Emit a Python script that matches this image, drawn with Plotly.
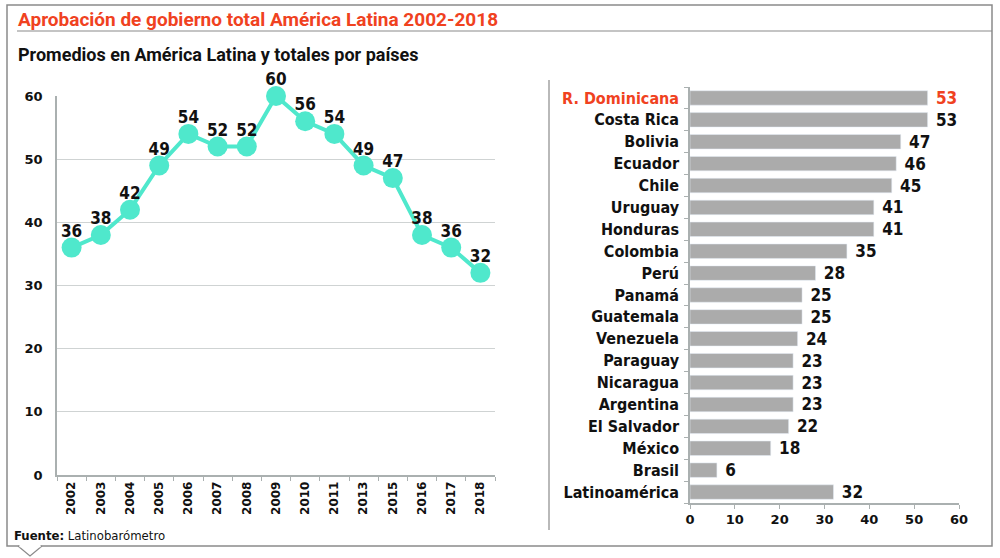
import plotly.graph_objects as go

years = ["2002", "2003", "2004", "2005", "2006", "2007", "2008", "2009",
         "2010", "2011", "2013", "2015", "2016", "2017", "2018"]
approval = [36, 38, 42, 49, 54, 52, 52, 60, 56, 54, 49, 47, 38, 36, 32]

countries = ["R. Dominicana", "Costa Rica", "Bolivia", "Ecuador", "Chile", "Uruguay",
             "Honduras", "Colombia", "Perú", "Panamá", "Guatemala", "Venezuela",
             "Paraguay", "Nicaragua", "Argentina", "El Salvador", "México", "Brasil",
             "Latinoamérica"]
country_vals = [53, 53, 47, 46, 45, 41, 41, 35, 28, 25, 25, 24, 23, 23, 23, 22, 18, 6, 32]

RED = "#F0421F"
TEAL = "#4FE8CC"
GRAY_BAR = "#ABABAB"
FRAME = "#8A8A8A"
W, H = 1000, 558
COND = "DejaVu Sans Condensed, DejaVu Sans, sans-serif"
NARROW = "Roboto, DejaVu Sans Condensed, sans-serif"
WIDE = "DejaVu Sans, sans-serif"

def px(x):
    return x / W

def py(y):
    return 1 - y / H

fig = go.Figure()

fig.add_trace(go.Scatter(
    x=years, y=approval, mode="lines+markers",
    line=dict(color=TEAL, width=4),
    marker=dict(color=TEAL, size=20),
    cliponaxis=False, xaxis="x", yaxis="y", showlegend=False, hoverinfo="skip",
))
fig.add_trace(go.Scatter(
    x=years, y=approval, mode="markers+text",
    marker=dict(color="rgba(0,0,0,0)", size=9),
    text=[str(v) for v in approval], textposition="top center",
    textfont=dict(family=COND, size=17, color="#111", weight="bold"),
    cliponaxis=False, xaxis="x", yaxis="y", showlegend=False, hoverinfo="skip",
))

label_colors = [RED if c == "R. Dominicana" else "#111" for c in countries]
fig.add_trace(go.Bar(
    y=countries, x=country_vals, orientation="h",
    marker=dict(color=GRAY_BAR), width=0.66,
    text=[" " + str(v) for v in country_vals], textposition="outside",
    constraintext="none",
    textfont=dict(family=COND, size=17, color=label_colors, weight="bold"),
    cliponaxis=False, xaxis="x2", yaxis="y2", showlegend=False, hoverinfo="skip",
))

ticktext = [f"<span style='color:{RED}'>{c}</span>" if c == "R. Dominicana" else c for c in countries]

fig.update_layout(
    width=W, height=H, autosize=False,
    margin=dict(l=0, r=0, t=0, b=0, autoexpand=False),
    paper_bgcolor="white", plot_bgcolor="white",
    xaxis=dict(domain=[px(57), px(495)], type="category", range=[-0.5, 14.5],
               automargin=False,
               tickangle=-90, tickson="boundaries", ticks="outside", ticklen=4,
               tickcolor="#AAB0B0", showline=True, linecolor="#AAB0B0", linewidth=1.5,
               showgrid=False, zeroline=False, fixedrange=True,
               tickfont=dict(family=WIDE, size=12, color="#111", weight="bold")),
    yaxis=dict(domain=[py(475), py(96)], range=[0, 60], dtick=10, automargin=False,
               showgrid=True, gridcolor="#CFD3D3", gridwidth=1,
               showline=True, linecolor="#AAB0B0", linewidth=1.5, zeroline=False,
               ticks="", ticklabelstandoff=10,
               tickfont=dict(family=WIDE, size=13, color="#111", weight="bold")),
    xaxis2=dict(domain=[px(690), px(959)], range=[0, 60], dtick=10, anchor="y2",
                automargin=False,
                showgrid=False, zeroline=False, showline=True, linecolor="#AAB0B0",
                linewidth=1.5, ticks="outside", ticklen=4, tickcolor="#AAB0B0",
                tickfont=dict(family=WIDE, size=13, color="#111", weight="bold")),
    yaxis2=dict(domain=[py(503), py(87)], anchor="x2", type="category", automargin=False,
                autorange=False, range=[18.5, -0.5], tickmode="array",
                tickvals=countries, ticktext=ticktext,
                tickson="boundaries", ticks="outside", ticklen=4, tickcolor="#AAB0B0",
                ticklabelstandoff=6,
                showline=True, linecolor="#AAB0B0", linewidth=1.5, showgrid=False,
                tickfont=dict(family=COND, size=16, color="#111", weight="bold")),
    bargap=0.34,
)

shapes = [
    dict(type="rect", xref="paper", yref="paper", x0=px(7), x1=px(992), y0=py(546), y1=py(5),
         line=dict(color=FRAME, width=1.5), fillcolor="rgba(0,0,0,0)", layer="below"),
    dict(type="line", xref="paper", yref="paper", x0=px(17), x1=px(992), y0=py(31), y1=py(31),
         line=dict(color=FRAME, width=1.2)),
    dict(type="line", xref="paper", yref="paper", x0=px(549), x1=px(549), y0=py(80), y1=py(530),
         line=dict(color=FRAME, width=1.2)),
    dict(type="path", xref="paper", yref="paper",
         path=f"M {px(18)},{py(546)} L {px(30)},{py(556)} L {px(42)},{py(546)}",
         fillcolor="white", line=dict(color=FRAME, width=1.2)),
    dict(type="line", xref="paper", yref="paper", x0=px(19.5), x1=px(40.5), y0=py(546), y1=py(546),
         line=dict(color="white", width=2.5)),
]
fig.update_layout(shapes=shapes)

annotations = [
    dict(text="Aprobación de gobierno total América Latina 2002-2018", x=px(16), y=py(19),
         xref="paper", yref="paper", xanchor="left", yanchor="middle", showarrow=False,
         font=dict(family=NARROW, size=19, color=RED, weight="bold")),
    dict(text="Promedios en América Latina y totales por países", x=px(16), y=py(54),
         xref="paper", yref="paper", xanchor="left", yanchor="middle", showarrow=False,
         font=dict(family=NARROW, size=18, color="#111", weight="bold")),
    dict(text="<b>Fuente:</b> Latinobarómetro", x=px(12), y=py(535),
         xref="paper", yref="paper", xanchor="left", yanchor="middle", showarrow=False,
         font=dict(family=COND, size=13, color="#111")),
]
fig.update_layout(annotations=annotations)

fig.write_html("out.html", config={"displayModeBar": False},
               post_script="document.body.style.margin='0';document.body.style.padding='0';")
